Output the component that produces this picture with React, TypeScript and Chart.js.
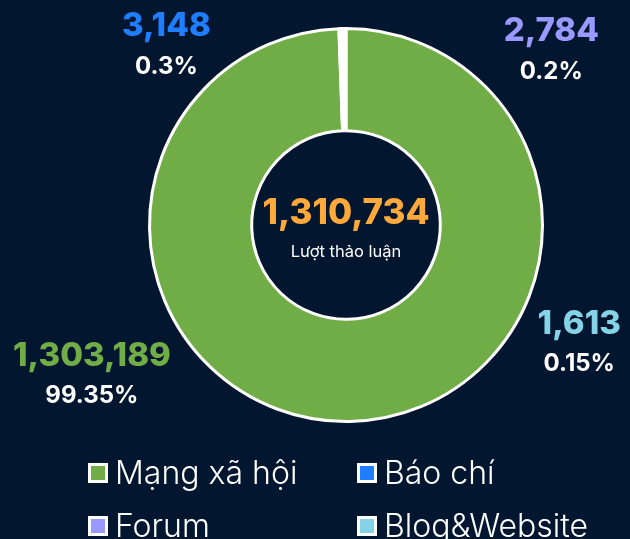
import React, { useEffect, useRef } from "react";
import { Chart, registerables } from "chart.js";

Chart.register(...registerables);

const categories = ["Mạng xã hội", "Báo chí", "Forum", "Blog&Website"];
const values = [1303189, 3148, 2784, 1613];
const percentLabels = ["99.35%", "0.3%", "0.2%", "0.15%"];
const totalValue = 1310734;
const centerCaption = "Lượt thảo luận";

const colors = ["#70ad47", "#1f7eff", "#9999ff", "#85d3e6"];
const BG = "#02162f";
const FONT = "Inter, 'DejaVu Sans', sans-serif";

// label anchors, in units of outer radius, relative to doughnut centre
const labelAnchors = [
  [-1.293, 0.667],
  [-0.914, -1.01],
  [1.045, -0.985],
  [1.187, 0.505],
];

const fmt = (n: number) => n.toLocaleString("en-US");

const overlay = {
  id: "overlay",
  afterDraw(chart: any) {
    const ctx = chart.ctx;
    const meta = chart.getDatasetMeta(0);
    const arc = meta.data[0];
    const cx = arc.x;
    const cy = arc.y;
    const R = arc.outerRadius;
    ctx.save();
    ctx.textAlign = "center";
    ctx.textBaseline = "middle";
    // centre
    ctx.fillStyle = "#ffa93a";
    ctx.font = `800 35px ${FONT}`;
    ctx.fillText(fmt(totalValue), cx, cy - 12);
    ctx.fillStyle = "#ffffff";
    ctx.font = `16.5px ${FONT}`;
    ctx.fillText(centerCaption, cx, cy + 27);
    // outside labels
    values.forEach((v, i) => {
      const [ax, ay] = labelAnchors[i];
      const x = cx + ax * R;
      const y = cy + ay * R;
      ctx.fillStyle = colors[i];
      ctx.font = `800 33px ${FONT}`;
      ctx.fillText(fmt(v), x, y);
      ctx.fillStyle = "#ffffff";
      ctx.font = `700 24px ${FONT}`;
      ctx.fillText(percentLabels[i], x, y + 40);
    });
    // legend (2 columns)
    const colX = [88, 357];
    const rowY = [473, 526];
    ctx.textAlign = "left";
    categories.forEach((c, i) => {
      const x = colX[i % 2];
      const y = rowY[Math.floor(i / 2)];
      ctx.fillStyle = "#ffffff";
      ctx.fillRect(x, y - 10, 20, 20);
      ctx.fillStyle = colors[i];
      ctx.fillRect(x + 3, y - 7, 14, 14);
      ctx.fillStyle = "#ffffff";
      ctx.font = `300 32px ${FONT}`;
      ctx.fillText(c, x + 27, y + 1);
    });
    ctx.restore();
  },
};

export default function App() {
  const ref = useRef<HTMLCanvasElement | null>(null);
  useEffect(() => {
    if (!ref.current) return;
    const chart = new Chart(ref.current, {
      type: "doughnut",
      data: {
        labels: categories,
        datasets: [
          {
            data: values,
            backgroundColor: colors,
            borderColor: "#ffffff",
            borderWidth: 3,
          },
        ],
      },
      options: {
        responsive: false,
        animation: false,
        cutout: "48%",
        layout: { padding: { left: 148, right: 86, top: 27, bottom: 116 } },
        plugins: {
          legend: { display: false },
          tooltip: { enabled: false },
        },
      },
      plugins: [overlay],
    });
    return () => chart.destroy();
  }, []);
  return (
    <div
      style={{
        position: "absolute",
        left: 0,
        top: 0,
        width: 630,
        height: 539,
        background: BG,
        overflow: "hidden",
      }}
    >
      <canvas ref={ref} width={630} height={539} style={{ display: "block" }} />
    </div>
  );
}
